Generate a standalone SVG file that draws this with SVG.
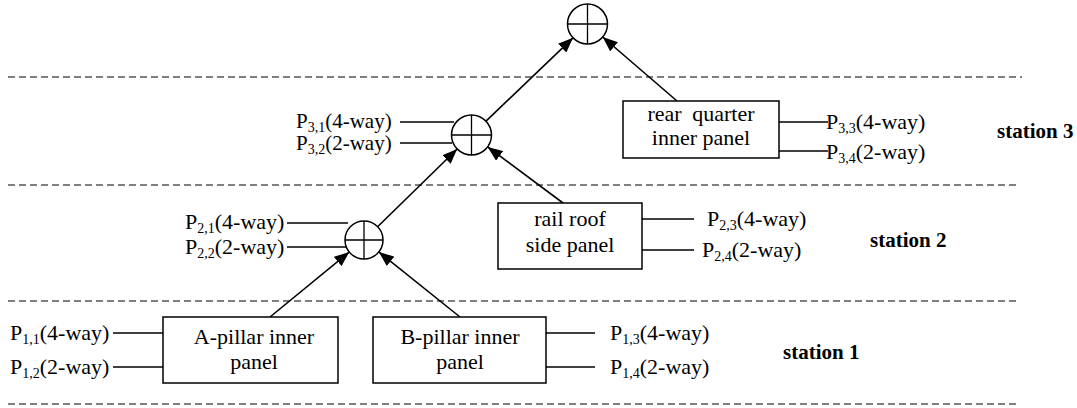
<svg xmlns="http://www.w3.org/2000/svg" width="1077" height="408" viewBox="0 0 1077 408" font-family="'Liberation Serif', 'DejaVu Serif', serif">
<style>
text{font-family:'Liberation Serif','DejaVu Serif',serif;font-size:22px;fill:#000}
.sub{font-size:14px}
.tight{font-size:21px}
.st{font-weight:bold;font-size:21px}
.box{fill:#fff;stroke:#000;stroke-width:1.5}
.circ{fill:#fff;stroke:#000;stroke-width:1.5}
.ln{stroke:#000;stroke-width:1.3;fill:none}
.dash{stroke:#000;stroke-width:1.2;stroke-dasharray:7,4;fill:none}
.arr{stroke:#000;stroke-width:1.6;fill:none;marker-end:url(#ah)}
</style>
<defs>
<marker id="ah" markerUnits="userSpaceOnUse" markerWidth="16" markerHeight="12" refX="15" refY="6" orient="auto">
<path d="M0,0 L15,6 L0,12 Z" fill="#000"/>
</marker>
</defs>
<rect width="1077" height="408" fill="#fff"/>
<g id="station-lines">
<line class="dash" x1="8" y1="77" x2="1022" y2="77"/>
<line class="dash" x1="8" y1="185" x2="1020" y2="185"/>
<line class="dash" x1="8" y1="301" x2="1020" y2="301"/>
<line class="dash" x1="8" y1="404" x2="1020" y2="404"/>
</g>
<g id="connectors">
<line class="arr" x1="270" y1="317" x2="349.3" y2="252"/>
<line class="arr" x1="460" y1="317" x2="378.8" y2="251.9"/>
<line class="arr" x1="377.6" y1="226.7" x2="457.2" y2="149"/>
<line class="arr" x1="563" y1="203" x2="487.6" y2="146.9"/>
<line class="arr" x1="486" y1="121.2" x2="573" y2="37.8"/>
<line class="arr" x1="677" y1="101" x2="602.7" y2="37"/>
</g>
<g id="sum-top">
<circle class="circ" cx="587.5" cy="24" r="20"/>
<line class="ln" x1="567.5" y1="24" x2="607.5" y2="24"/>
<line class="ln" x1="587.5" y1="4" x2="587.5" y2="44"/>
</g>
<g id="sum-station3">
<circle class="circ" cx="471.5" cy="135" r="20"/>
<line class="ln" x1="451.5" y1="135" x2="491.5" y2="135"/>
<line class="ln" x1="471.5" y1="115" x2="471.5" y2="155"/>
<line class="ln" x1="400" y1="122" x2="454" y2="122"/>
<line class="ln" x1="400" y1="143" x2="452" y2="143"/>
<text class="tight" x="296" y="128">P<tspan class="sub" dy="4">3,1</tspan><tspan dy="-4">(4-way)</tspan></text>
<text class="tight" x="296" y="150">P<tspan class="sub" dy="4">3,2</tspan><tspan dy="-4">(2-way)</tspan></text>
</g>
<g id="sum-station2">
<circle class="circ" cx="364" cy="240" r="19"/>
<line class="ln" x1="345" y1="240" x2="383" y2="240"/>
<line class="ln" x1="364" y1="221" x2="364" y2="259"/>
<line class="ln" x1="287" y1="223" x2="348" y2="223"/>
<line class="ln" x1="287" y1="247" x2="346" y2="247"/>
<text x="185" y="229">P<tspan class="sub" dy="4">2,1</tspan><tspan dy="-4">(4-way)</tspan></text>
<text x="185" y="254">P<tspan class="sub" dy="4">2,2</tspan><tspan dy="-4">(2-way)</tspan></text>
</g>
<g id="rear-quarter">
<rect class="box" x="623" y="101" width="156" height="57"/>
<text x="701" y="121" text-anchor="middle" word-spacing="5">rear quarter</text>
<text x="701" y="145" text-anchor="middle">inner panel</text>
<line class="ln" x1="779" y1="122" x2="828" y2="122"/>
<line class="ln" x1="779" y1="151" x2="828" y2="151"/>
<text x="826" y="129">P<tspan class="sub" dy="4">3,3</tspan><tspan dy="-4">(4-way)</tspan></text>
<text x="826" y="159">P<tspan class="sub" dy="4">3,4</tspan><tspan dy="-4">(2-way)</tspan></text>
</g>
<g id="rail-roof">
<rect class="box" x="498" y="203" width="144" height="66"/>
<text x="570" y="226" text-anchor="middle">rail roof</text>
<text x="570" y="252" text-anchor="middle">side panel</text>
<line class="ln" x1="642" y1="219" x2="694" y2="219"/>
<line class="ln" x1="642" y1="250" x2="694" y2="250"/>
<text x="707" y="226">P<tspan class="sub" dy="4">2,3</tspan><tspan dy="-4">(4-way)</tspan></text>
<text x="702" y="257">P<tspan class="sub" dy="4">2,4</tspan><tspan dy="-4">(2-way)</tspan></text>
</g>
<g id="a-pillar">
<rect class="box" x="163" y="317" width="175" height="66"/>
<text x="254" y="344" text-anchor="middle">A-pillar inner</text>
<text x="254" y="369" text-anchor="middle">panel</text>
<line class="ln" x1="113" y1="333" x2="163" y2="333"/>
<line class="ln" x1="113" y1="367" x2="163" y2="367"/>
<text x="10" y="340">P<tspan class="sub" dy="4">1,1</tspan><tspan dy="-4">(4-way)</tspan></text>
<text x="10" y="374">P<tspan class="sub" dy="4">1,2</tspan><tspan dy="-4">(2-way)</tspan></text>
</g>
<g id="b-pillar">
<rect class="box" x="373" y="317" width="173" height="66"/>
<text x="460" y="344" text-anchor="middle">B-pillar inner</text>
<text x="460" y="369" text-anchor="middle">panel</text>
<line class="ln" x1="546" y1="333" x2="595" y2="333"/>
<line class="ln" x1="546" y1="367" x2="595" y2="367"/>
<text x="610" y="340">P<tspan class="sub" dy="4">1,3</tspan><tspan dy="-4">(4-way)</tspan></text>
<text x="610" y="374">P<tspan class="sub" dy="4">1,4</tspan><tspan dy="-4">(2-way)</tspan></text>
</g>
<g id="station-labels">
<text class="st" x="997" y="138">station 3</text>
<text class="st" x="870" y="247">station 2</text>
<text class="st" x="783" y="359">station 1</text>
</g>
</svg>
